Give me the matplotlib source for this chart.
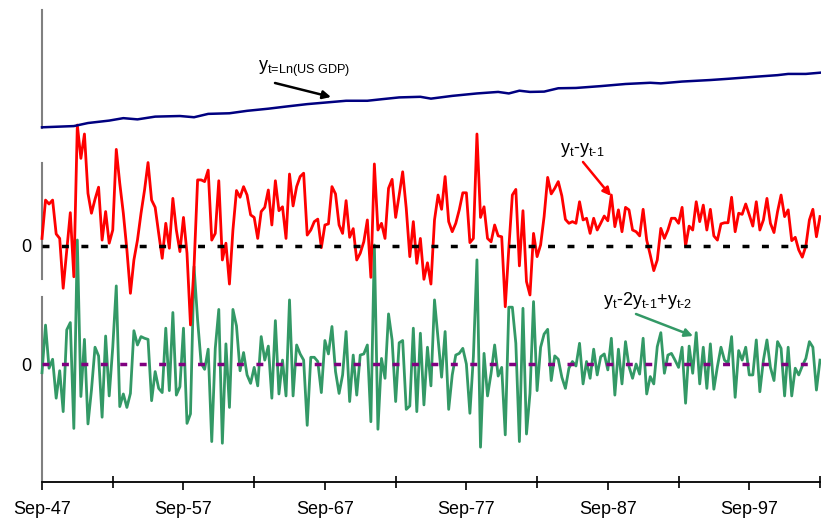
import matplotlib
matplotlib.use("Agg")
import matplotlib.pyplot as plt
import pandas as pd

plt.rcParams['font.family'] = ['Liberation Sans', 'DejaVu Sans']
plt.rcParams['mathtext.fontset'] = 'custom'
plt.rcParams['mathtext.rm'] = 'Liberation Sans'
plt.rcParams['mathtext.it'] = 'Liberation Sans'

# quarterly observations, Sep-47 onwards
quarters = pd.date_range('1947-09-01', periods=221, freq='3MS')

# y_t = ln(US GDP), read at selected quarters (offset from Sep-47)
gdp_q = [0, 9, 13, 19, 23, 27, 32, 39, 43, 47, 53, 58, 64, 69, 75, 80, 86, 92,
         96, 101, 107, 110, 116, 123, 129, 132, 135, 138, 142, 146, 151, 158,
         165, 172, 175, 181, 189, 194, 202, 208, 211, 216, 220]
gdp_ln = [7.36, 7.40, 7.50, 7.58, 7.66, 7.62, 7.71, 7.73, 7.69, 7.80, 7.82,
          7.90, 7.97, 8.04, 8.12, 8.17, 8.23, 8.23, 8.28, 8.34, 8.36, 8.30,
          8.39, 8.47, 8.52, 8.47, 8.56, 8.52, 8.53, 8.64, 8.65, 8.71, 8.78,
          8.82, 8.80, 8.86, 8.91, 8.95, 9.02, 9.07, 9.11, 9.11, 9.15]

# y_t - y_(t-1), in %
diff1 = [0.27, 1.64, 1.50, 1.64, 0.43, 0.27, -1.51, -0.14, 1.19, -1.10,
         4.32, 3.13, 4.00, 1.88, 1.17, 1.67, 2.10, 0.21, 1.23, 0.10,
         0.57, 3.45, 2.24, 1.17, -0.14, -1.69, -0.50, 0.21, 1.17, 2.00,
         2.98, 1.64, 1.38, 0.45, -0.44, 0.81, -0.08, 1.70, 0.57, -0.20,
         1.02, -0.26, -2.82, -0.74, 2.36, 2.36, 2.30, 2.71, 0.21, 0.45,
         2.33, -0.50, 0.10, -1.36, 0.57, 1.98, 1.74, 2.12, 1.82, 1.11,
         1.02, 0.27, 1.23, 1.38, 2.00, 0.75, 2.33, 1.26, 1.40, 0.27,
         2.57, 1.43, 2.12, 2.48, 2.60, 0.39, 0.57, 0.87, 0.96, -0.06,
         0.75, 0.79, 2.12, 1.86, 0.75, 0.45, 1.62, 0.31, 0.62, -0.50,
         -0.26, 0.15, 0.93, -1.12, 2.93, 0.57, 0.81, 0.27, 2.06, 2.38,
         1.02, 1.82, 2.65, 1.35, -0.38, 0.87, -0.62, 0.27, -1.19, -0.60,
         -1.36, 0.93, 1.82, 1.31, 2.48, 0.87, 0.51, 0.81, 1.29, 1.90,
         1.90, 0.12, 0.27, 4.00, 1.02, 1.40, 0.27, 0.15, 0.75, 0.36,
         0.33, -2.17, -0.08, 1.82, 2.02, -0.71, 1.26, -1.27, -1.75, 0.45,
         -0.38, 0.04, 1.05, 2.45, 1.86, 2.06, 2.30, 1.79, 0.95, 0.81,
         0.87, 0.81, 1.58, 0.93, 0.99, 0.45, 0.99, 0.57, 0.81, 1.07,
         0.90, 1.82, 0.69, 1.29, 0.51, 1.38, 1.29, 0.57, 0.51, 0.36,
         1.31, 0.21, -0.32, -0.88, -0.50, 0.63, 0.27, 0.57, 0.99, 0.99,
         0.81, 1.38, 0.00, 0.71, 0.57, 1.58, 0.87, 1.46, 0.57, 1.31,
         0.36, 0.21, 0.79, 0.83, 0.83, 1.74, 0.51, 1.17, 1.13, 1.50,
         1.11, 0.71, 1.58, 0.57, 0.93, 1.70, 0.81, 0.48, 1.23, 1.82,
         1.05, 1.29, 0.19, 0.31, -0.14, -0.40, 0.00, 0.93, 1.31, 0.33,
         1.05]

# y_t - 2y_(t-1) + y_(t-2), in %
diff2 = [-0.30, 1.40, -0.14, 0.18, -1.21, -0.23, -1.69, 1.23, 1.49, -2.29,
         4.44, -1.15, 0.89, -2.13, -0.92, 0.61, 0.30, -1.89, 1.01, -1.13,
         0.61, 2.80, -1.51, -1.06, -1.54, -1.04, 1.20, 0.69, 0.99, 0.93,
         0.89, -1.30, -0.26, -0.86, -1.01, 1.29, -0.94, 1.85, -1.10, -0.80,
         1.29, -2.11, -1.77, 3.49, 1.58, 0.04, -0.18, 0.54, -2.76, 0.57,
         1.96, -2.82, 0.73, -1.54, 1.96, 1.37, -0.23, 0.42, -0.38, -0.68,
         -0.11, -0.77, 0.99, 0.15, 0.65, -1.21, 1.56, -1.06, 0.15, -1.13,
         2.30, -1.13, 0.69, 0.37, 0.15, -2.18, 0.25, 0.25, 0.10, -1.01,
         0.85, 0.37, 1.35, -0.26, -1.04, -0.38, 1.17, -1.33, 0.33, -1.10,
         0.33, 0.37, 0.69, -2.05, 4.26, -2.32, 0.21, -0.50, 1.80, 0.87,
         -1.33, 0.77, 0.85, -1.61, -1.49, 1.29, -1.69, 1.11, -1.45, 0.61,
         -0.77, 2.30, 0.93, -0.46, 1.17, -1.61, -0.38, 0.33, 0.39, 0.57,
         0.01, -1.75, 0.27, 3.73, -2.96, 0.39, -1.13, -0.32, 0.69, -0.42,
         -0.11, -2.52, 2.04, 2.04, 0.75, -2.76, 2.00, -2.49, -1.04, 2.24,
         -0.94, 0.61, 1.08, 1.25, -0.58, 0.30, 0.18, -0.46, -0.86, -0.14,
         0.10, -0.06, 0.75, -0.70, 0.10, -0.50, 0.54, -0.38, 0.27, 0.37,
         -0.20, 0.93, -1.10, 0.54, -0.70, 0.81, -0.08, -0.50, 0.01, -0.35,
         0.93, -1.06, -0.44, -0.70, 0.63, 1.13, -0.32, 0.33, 0.39, 0.15,
         -0.11, 0.61, -1.39, 0.65, -0.32, 1.13, -0.70, 0.61, -0.86, 0.73,
         -0.89, -0.08, 0.61, 0.15, 0.04, 0.99, -1.18, 0.49, 0.15, 0.61,
         -0.38, -0.38, 0.87, -0.98, 0.15, 0.87, -0.11, -0.58, 0.81, 0.57,
         -1.13, 0.61, -1.13, -0.14, -0.38, -0.06, 0.21, 0.81, 0.61, -0.92,
         0.15]

tick_step = 20   # every 5 years
label_step = 40  # every 10 years

fig = plt.figure(figsize=(8.21, 5.21), dpi=100)
left, width = 42 / 821, 778 / 821
ax_bot = fig.add_axes([left, 1 - 482 / 521, width, 185 / 521])
ax_mid = fig.add_axes([left, 1 - 279 / 521, width, 116 / 521])
ax_top = fig.add_axes([left, 1 - 128 / 521, width, 118 / 521])

for ax in (ax_bot, ax_mid, ax_top):
    ax.set_facecolor('none')
    for s in ('top', 'right'):
        ax.spines[s].set_visible(False)
    ax.spines['left'].set_color('#808080')
    ax.spines['left'].set_linewidth(1.5)
    ax.set_xlim(quarters[0], quarters[-1])

# second difference
ax_bot.plot(quarters, diff2, color='#339966', lw=2, clip_on=False, zorder=3)
ax_bot.axhline(0, color='#800080', lw=2.5, ls=(0, (2, 3.6)), zorder=4)
ax_bot.set_ylim(-4.204, 2.404)

# first difference
ax_mid.plot(quarters, diff1, color='red', lw=2, clip_on=False, zorder=3)
ax_mid.axhline(0, color='black', lw=2.5, ls=(0, (2, 3.6)), zorder=4)
ax_mid.set_ylim(-1.179, 2.964)

# log level
ax_top.plot(quarters[gdp_q], gdp_ln, color='#000080', lw=1.8, clip_on=False, zorder=3)
ax_top.set_ylim(7.337, 11.206)

for ax in (ax_mid, ax_top):
    ax.spines['bottom'].set_visible(False)
    ax.set_xticks([])
ax_top.set_yticks([])
for ax in (ax_mid, ax_bot):
    ax.set_yticks([0])
    ax.set_yticklabels(['0'])
    ax.tick_params(axis='y', length=0, pad=8, labelsize=13)

major = quarters[::label_step]
minor = quarters[tick_step::label_step]
ax_bot.set_xticks(major)
ax_bot.set_xticklabels([d.strftime('%b-%y') for d in major])
ax_bot.set_xticks(minor, minor=True)
ax_bot.tick_params(axis='x', which='major', direction='out', length=6, width=1.2,
                   labelsize=13, pad=8)
ax_bot.tick_params(axis='x', which='minor', direction='inout', length=8, width=1.2)
ax_bot.spines['bottom'].set_linewidth(1.3)

# labels and arrows
fig.text(258 / 821, 1 - 71 / 521, r'$\mathregular{y_{\text{t=Ln(US GDP)}}}$', fontsize=13,
         va='baseline')
fig.text(560 / 821, 1 - 153 / 521, r'$\mathregular{y_{t}\text{-}y_{t\text{-}1}}$', fontsize=13,
         va='baseline')
fig.text(603 / 821, 1 - 305 / 521,
         r'$\mathregular{y_{t}\text{-}2y_{t\text{-}1}{+}y_{t\text{-}2}}$',
         fontsize=13, va='baseline')

arrows = [((275, 83), (331, 97), 'black'),
          ((583, 162), (611, 196), 'red'),
          ((636, 314), (693, 336), '#339966')]
for (x0, y0), (x1, y1), c in arrows:
    ax_top.annotate('', xy=(x1 / 821, 1 - y1 / 521), xytext=(x0 / 821, 1 - y0 / 521),
                    xycoords='figure fraction', textcoords='figure fraction',
                    arrowprops=dict(arrowstyle='-|>', color=c, lw=1.8,
                                    mutation_scale=12, shrinkA=0, shrinkB=0))

fig.savefig('out.png', dpi=100)
